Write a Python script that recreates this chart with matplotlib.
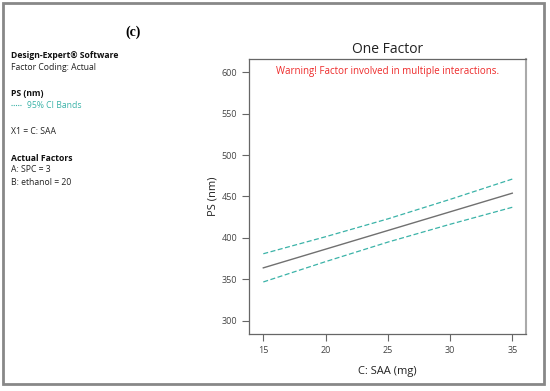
import numpy as np
import matplotlib
matplotlib.use("Agg")
import matplotlib.pyplot as plt
from matplotlib.patches import Rectangle

plt.rcParams['font.family'] = ['Open Sans', 'DejaVu Sans']

# SAA (mg) and predicted PS (nm) with 95% CI bands
saa = [15, 20, 25, 30, 35]
ps_mean = [364, 386.5, 409, 431.5, 454]
ps_upper = [381, 401.5, 423, 446.5, 471]
ps_lower = [347, 371.5, 395, 416.5, 437]

x_ticks = [15, 20, 25, 30, 35]
y_ticks = [300, 350, 400, 450, 500, 550, 600]

teal = "#3bb3a8"
grey = "#666666"

fig = plt.figure(figsize=(5.5, 3.91), dpi=100)

# outer frame
fig.patches.append(Rectangle((3 / 550, 1 - 384 / 391), 541 / 550, 381 / 391,
                             transform=fig.transFigure, fill=False,
                             edgecolor="#888888", linewidth=2))

ax = fig.add_axes([0.4527, 0.1458, 0.5036, 0.7033])
ax.plot(saa, ps_mean, color="#707070", linewidth=1.0)
ax.plot(saa, ps_upper, color=teal, linewidth=0.9, linestyle=(0, (4, 2)))
ax.plot(saa, ps_lower, color=teal, linewidth=0.9, linestyle=(0, (4, 2)))

ax.set_xlim(13.85, 36.1)
ax.set_ylim(284.3, 615.7)
ax.set_xticks(x_ticks)
ax.set_yticks(y_ticks)
ax.tick_params(labelsize=6.5, colors="#444444", length=5, width=0.8,
               color="#666666")
for side in ["left", "bottom", "top"]:
    ax.spines[side].set_color(grey)
    ax.spines[side].set_linewidth(0.9)
ax.spines["right"].set_color("#aaaaaa")
ax.spines["right"].set_linewidth(1.5)

ax.set_title("One Factor", fontsize=10, color="#222222", pad=4)
ax.set_xlabel("C: SAA (mg)", fontsize=8, color="#222222", labelpad=8)
ax.set_ylabel("PS (nm)", fontsize=8, color="#222222", labelpad=2)
ax.text(0.5, 0.955, "Warning! Factor involved in multiple interactions.",
        transform=ax.transAxes, ha="center", va="center",
        fontsize=7, color="#ee2a2a")

# side annotations
fig.text(133 / 550, 1 - 32 / 391, "(c)", fontsize=10, fontweight="bold",
         family="Liberation Serif", ha="center", va="center")
lines = [
    (55, "Design-Expert® Software", "bold", "#111111"),
    (68, "Factor Coding: Actual", "normal", "#222222"),
    (93, "PS (nm)", "bold", "#111111"),
    (132, "X1 = C: SAA", "normal", "#222222"),
    (158, "Actual Factors", "bold", "#111111"),
    (170, "A: SPC = 3", "normal", "#222222"),
    (183, "B: ethanol = 20", "normal", "#222222"),
]
for y, s, w, c in lines:
    fig.text(11 / 550, 1 - y / 391, s, fontsize=6.2, fontweight=w, color=c,
             va="center", ha="left")
fig.add_artist(plt.Line2D([11 / 550, 22 / 550], [1 - 105 / 391] * 2,
                          transform=fig.transFigure, color=teal,
                          linewidth=0.8, linestyle=(0, (1, 1))))
fig.text(27 / 550, 1 - 106 / 391, "95% CI Bands", fontsize=6.2, color=teal,
         va="center", ha="left")

fig.savefig("out.png", dpi=100)
